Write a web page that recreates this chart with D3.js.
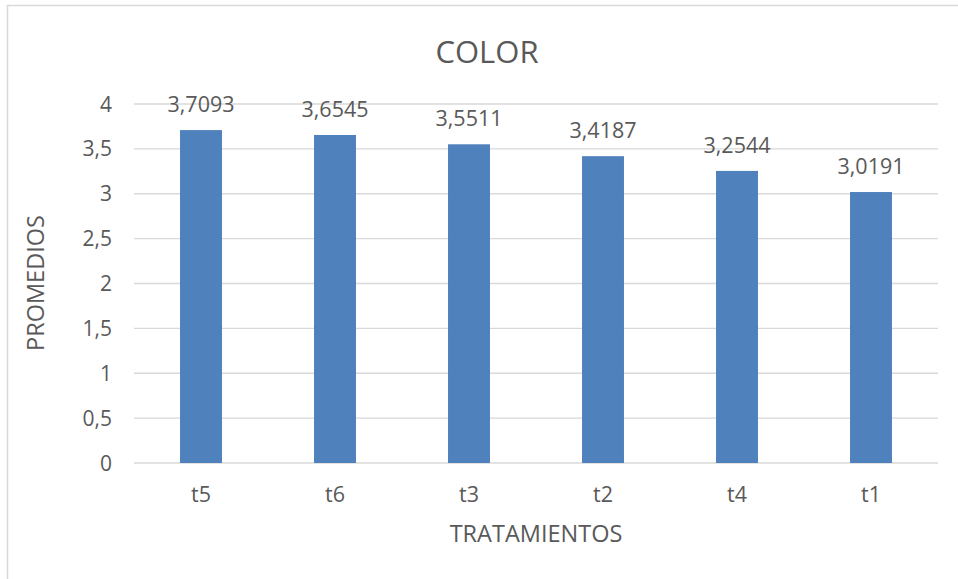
<!DOCTYPE html>
<html>
<head>
<meta charset="utf-8">
<script src="https://cdn.jsdelivr.net/npm/d3@7"></script>
<style>
  body { margin: 0; background: #fff; }
  text { font-family: "Open Sans", sans-serif; fill: #595959; }
</style>
</head>
<body>
<svg id="chart"></svg>
<script>
const categories = ["t5", "t6", "t3", "t2", "t4", "t1"];
const values = [3.7093, 3.6545, 3.5511, 3.4187, 3.2544, 3.0191];
const yTicks = [0, 0.5, 1, 1.5, 2, 2.5, 3, 3.5, 4];

const width = 958;
const height = 579;
const margin = { top: 104, right: 20, bottom: 116, left: 134 };

const svg = d3.select("#chart")
  .attr("width", width)
  .attr("height", height);

// chart frame
svg.append("rect")
  .attr("x", 7.5)
  .attr("y", 5.5)
  .attr("width", 958)
  .attr("height", 590)
  .attr("fill", "none")
  .attr("stroke", "#d9d9d9")
  .attr("stroke-width", 1.5);

const x = d3.scaleBand()
  .domain(categories)
  .range([margin.left, 938])
  .paddingInner(0.687)
  .paddingOuter(0.3435);

const y = d3.scaleLinear()
  .domain([0, 4])
  .range([463, margin.top]);

const fmt = v => String(v).replace(".", ",");

// gridlines
svg.append("g")
  .selectAll("line")
  .data(yTicks)
  .enter().append("line")
  .attr("x1", margin.left)
  .attr("x2", 938)
  .attr("y1", d => y(d))
  .attr("y2", d => y(d))
  .attr("stroke", "#d9d9d9")
  .attr("stroke-width", 1.3);

// y tick labels
svg.append("g")
  .selectAll("text")
  .data(yTicks)
  .enter().append("text")
  .attr("x", 112)
  .attr("y", d => y(d))
  .attr("dy", "0.36em")
  .attr("text-anchor", "end")
  .attr("font-size", "21px")
  .text(d => fmt(d));

// bars
svg.append("g")
  .selectAll("rect")
  .data(values)
  .enter().append("rect")
  .attr("x", (d, i) => x(categories[i]))
  .attr("y", d => y(d))
  .attr("width", x.bandwidth())
  .attr("height", d => y(0) - y(d))
  .attr("fill", "#4f81bd");

// data labels
svg.append("g")
  .selectAll("text")
  .data(values)
  .enter().append("text")
  .attr("x", (d, i) => x(categories[i]) + x.bandwidth() / 2)
  .attr("y", d => y(d) - 18)
  .attr("text-anchor", "middle")
  .attr("font-size", "21.5px")
  .text(d => fmt(d));

// x tick labels
svg.append("g")
  .selectAll("text")
  .data(categories)
  .enter().append("text")
  .attr("x", d => x(d) + x.bandwidth() / 2)
  .attr("y", 502)
  .attr("text-anchor", "middle")
  .attr("font-size", "21.5px")
  .text(d => d);

// titles
svg.append("text")
  .attr("x", 487)
  .attr("y", 63)
  .attr("text-anchor", "middle")
  .attr("font-size", "31px")
  .text("COLOR");

svg.append("text")
  .attr("x", 536)
  .attr("y", 542)
  .attr("text-anchor", "middle")
  .attr("font-size", "23.5px")
  .text("TRATAMIENTOS");

svg.append("text")
  .attr("transform", "translate(44,283) rotate(-90)")
  .attr("text-anchor", "middle")
  .attr("font-size", "23.5px")
  .text("PROMEDIOS");
</script>
</body>
</html>
